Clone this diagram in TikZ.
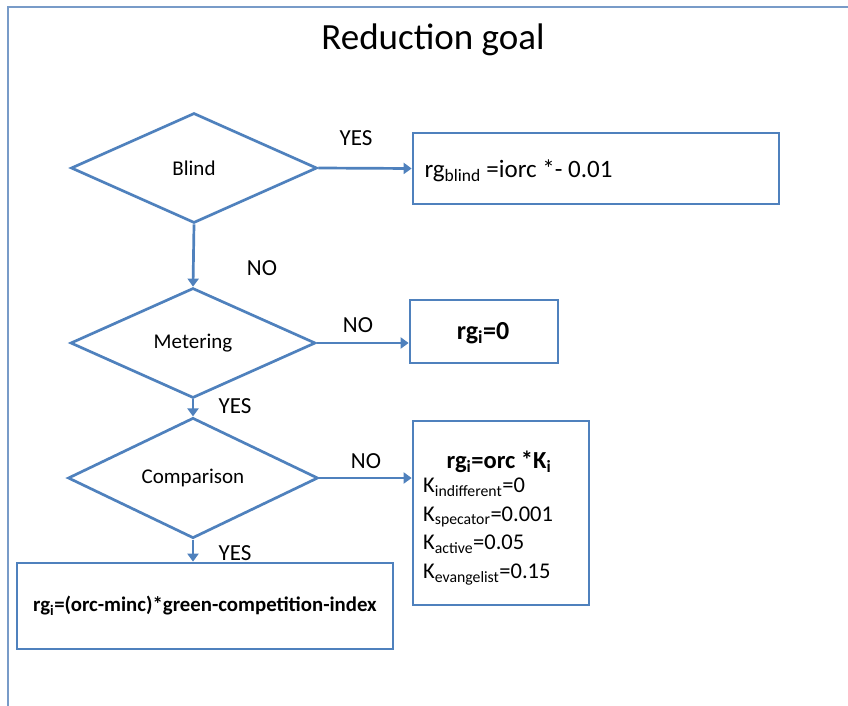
\documentclass[tikz,border=0pt]{standalone}
\usepackage{fontspec}
\setmainfont{Carlito}
\usetikzlibrary{shapes.geometric,arrows.meta}
\definecolor{flowblue}{RGB}{79,129,189}
\definecolor{framecol}{RGB}{120,155,200}
\begin{document}
\begin{tikzpicture}[x=1pt,y=-1pt,
  decision/.style={diamond,draw=flowblue,line width=2.7pt,inner sep=0pt,
    minimum width=#1,font=\fontsize{21}{24}\selectfont},
  decision/.default=246pt,
  resultbox/.style={draw=flowblue,line width=2.7pt,inner sep=0pt},
  flow/.style={draw=flowblue,line width=2.7pt,-{Triangle[length=8pt,width=11pt]}},
  answer/.style={font=\fontsize{23}{26}\selectfont}]
\useasboundingbox (0,0) rectangle (848,706);
% page frame
\draw[framecol,line width=1.6pt] (848,7) -- (8,7) -- (8,706);
\node (title) at (433,40) {\fontsize{37}{42}\selectfont Reduction goal};

% decisions
\node[decision, minimum height=110pt] (blind) at (194,168) {Blind};
\node[decision=245pt, minimum height=110pt] (meter) at (193,343) {Metering};
\node[decision=250pt, minimum height=115pt] (comp) at (193,478) {Comparison};

% outcomes
\node[resultbox, minimum width=366pt, minimum height=71pt] (rblind) at (596,168.5) {};
\node[anchor=west, font=\fontsize{25}{29}\selectfont] (rblindtxt) at (421,171)
  {rg\textsubscript{blind} =iorc *- 0.01};
\node[resultbox, minimum width=148pt, minimum height=63pt] (rzero) at (484,331.5) {};
\node[font=\fontsize{26}{30}\selectfont\bfseries] (rzerotxt) at (483,333)
  {rg\textsubscript{i}=0};
\node[resultbox, minimum width=176pt, minimum height=184pt] (rk) at (501,513) {};
\node[font=\fontsize{24.5}{28}\selectfont\bfseries] (rktitle) at (499,462)
  {rg\textsubscript{i}=orc *K\textsubscript{i}};
\node[anchor=north west, align=left, inner sep=0pt,
  font=\fontsize{22.5}{28.5}\selectfont] (rklist) at (423,478)
  {K\textsubscript{indifferent}=0\\
   K\textsubscript{specator}=0.001\\
   K\textsubscript{active}=0.05\\
   K\textsubscript{evangelist}=0.15};
\node[resultbox, minimum width=376pt, minimum height=86pt] (rcomp) at (205,606)
  {\fontsize{20.8}{24}\selectfont\bfseries rg\textsubscript{i}=(orc-minc)*green-competition-index};

% connectors
\draw[flow] (blind.east) -- (rblind.west);
\draw[flow] (blind.south) -- (meter.north);
\draw[flow] (meter.east) -- (rzero.west |- meter.east);
\draw[flow] (meter.south) -- (comp.north);
\draw[flow] (comp.east) -- (rk.west |- comp.east);
\draw[flow] (comp.south) -- (rcomp.north -| comp.south);

% branch labels
\node[answer] (l1) at (356,138) {YES};
\node[answer] (l2) at (262,268) {NO};
\node[answer] (l3) at (358,325) {NO};
\node[answer] (l4) at (235,406) {YES};
\node[answer] (l5) at (366,461) {NO};
\node[answer] (l6) at (235,553) {YES};
\end{tikzpicture}
\end{document}
